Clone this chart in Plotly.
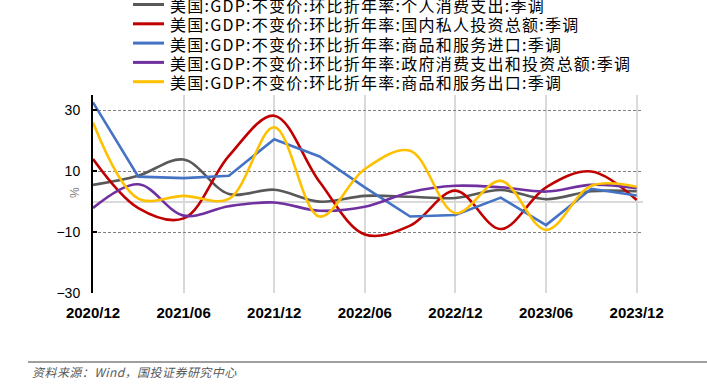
import plotly.graph_objects as go

quarters = ["2020/12", "2021/03", "2021/06", "2021/09", "2021/12", "2022/03", "2022/06",
            "2022/09", "2022/12", "2023/03", "2023/06", "2023/09", "2023/12"]
tick_labels = ["2020/12", "2021/06", "2021/12", "2022/06", "2022/12", "2023/06", "2023/12"]

pce = [5.5, 8.5, 13.8, 2.5, 3.9, 0.0, 1.9, 1.6, 1.2, 3.8, 0.8, 3.4, 3.4]
private_inv = [14.0, -2.1, -5.5, 15.0, 28.2, 6.5, -10.8, -7.9, 3.6, -9.0, 4.7, 9.9, 0.5]
imports = [32.6, 8.2, 7.7, 8.5, 20.5, 14.8, 4.7, -4.9, -4.4, 1.3, -7.7, 4.2, 2.0]
government = [-2.1, 5.7, -4.6, -1.5, -0.3, -3.0, -1.7, 3.1, 5.2, 4.7, 3.3, 5.5, 4.4]
exports = [26.0, 1.0, 1.9, 0.9, 24.4, -4.9, 10.7, 16.7, -3.8, 6.8, -9.3, 5.2, 4.9]

series_names = [
    "美国:GDP:不变价:环比折年率:个人消费支出:季调",
    "美国:GDP:不变价:环比折年率:国内私人投资总额:季调",
    "美国:GDP:不变价:环比折年率:商品和服务进口:季调",
    "美国:GDP:不变价:环比折年率:政府消费支出和投资总额:季调",
    "美国:GDP:不变价:环比折年率:商品和服务出口:季调",
]
series_values = [pce, private_inv, imports, government, exports]
series_colors = ["#595959", "#c00000", "#4472c4", "#7030a0", "#ffc000"]
series_shapes = ["spline", "spline", "linear", "spline", "spline"]
y_ticks = [-30, -10, 10, 30]
source_text = "资料来源：Wind，国投证券研究中心"

W, H = 707, 384
L, R, T, B = 93, 64, 95, 91
PW, PH = W - L - R, H - T - B


def px_x(x):
    return (x - L) / PW


def px_y(y):
    return (H - B - y) / PH


fig = go.Figure()
for name, vals, col, shp in zip(series_names, series_values, series_colors, series_shapes):
    fig.add_trace(go.Scatter(
        x=quarters, y=vals, mode="lines", name=name, showlegend=False,
        line=dict(color=col, width=2.6, shape=shp, smoothing=1.0),
    ))

fig.update_layout(
    width=W, height=H,
    margin=dict(l=L, r=R, t=T, b=B, autoexpand=False),
    paper_bgcolor="white", plot_bgcolor="white",
    font=dict(family="Noto Sans CJK SC, Liberation Sans, Arial", color="black"),
    showlegend=False,
    xaxis=dict(
        type="category", categoryorder="array", categoryarray=quarters,
        range=[0, 12.14],
        tickvals=tick_labels, ticktext=tick_labels,
        showgrid=True, gridcolor="#d9d9d9", gridwidth=1.5,
        showline=False, ticks="", zeroline=False,
        tickfont=dict(family="Liberation Sans, Arial", size=15, color="black", weight="bold"),
        ticklabelstandoff=9,
    ),
    yaxis=dict(
        range=[-30, 35], tickvals=y_ticks,
        showgrid=True, gridcolor="#7f7f7f", gridwidth=1.3, griddash="3px,2px",
        zeroline=True, zerolinecolor="#d9d9d9", zerolinewidth=1.5,
        showline=True, linecolor="black", linewidth=2,
        ticks="inside", ticklen=4, tickcolor="black", tickwidth=1.5,
        tickfont=dict(family="Liberation Sans, Arial", size=14, color="black"),
        ticklabelstandoff=8,
    ),
)

# legend (drawn as line samples + text, laid out like the reference)
for i, (name, col) in enumerate(zip(series_names, series_colors)):
    yc = 4.5 + 19.3 * i
    fig.add_shape(type="line", xref="paper", yref="paper",
                  x0=px_x(133), x1=px_x(164), y0=px_y(yc), y1=px_y(yc),
                  line=dict(color=col, width=3))
    fig.add_annotation(
        text=f'<span style="letter-spacing:1.25px">{name}</span>',
        xref="paper", yref="paper", x=px_x(168), y=px_y(yc + 0.5),
        xanchor="left", yanchor="middle", showarrow=False, height=18,
        font=dict(size=16, color="black", family="Noto Sans CJK SC"),
    )

fig.add_annotation(
    text="%", xref="paper", yref="paper", x=px_x(66), y=px_y(193),
    showarrow=False, textangle=-90, font=dict(size=12, color="#808080", family="Liberation Sans, Arial"),
)

fig.add_shape(type="line", xref="paper", yref="paper",
              x0=px_x(28), x1=px_x(W + 2), y0=px_y(362), y1=px_y(362),
              line=dict(color="#7f7f7f", width=1.5))
fig.add_annotation(
    text=f'<span style="letter-spacing:0.45px">{source_text}</span>', xref="paper", yref="paper",
    x=px_x(30), y=px_y(371.5), xanchor="left", yanchor="middle",
    showarrow=False, font=dict(size=12, color="#595959", family="Noto Sans CJK SC", style="italic"),
)

fig.write_html("out.html", config={"displayModeBar": False},
               post_script="document.body.style.margin='0px';")
